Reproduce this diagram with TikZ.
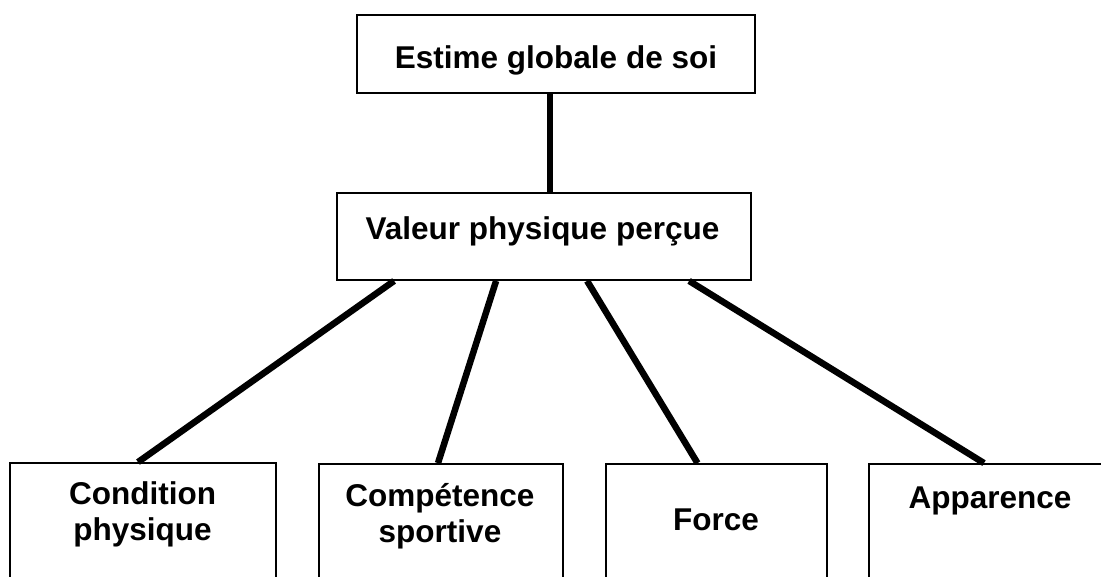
\documentclass[tikz,border=0pt]{standalone}
\usepackage{fontspec}
\setmainfont{Liberation Sans}
\begin{document}
\begin{tikzpicture}[x=1pt,y=-1pt,
  box/.style={draw=black,line width=1.8pt,rectangle,inner sep=0pt},
  lbl/.style={font=\bfseries\fontsize{31.5}{35.5}\selectfont,inner sep=0pt,anchor=base,align=center},
  link/.style={line width=6.5pt,black}]
\useasboundingbox (0,0) rectangle (1101,576);
\clip (0,0) rectangle (1101,576);
% boxes
\node[box,minimum width=398pt,minimum height=78pt] (top) at (556,54) {};
\node[box,minimum width=414pt,minimum height=87pt] (mid) at (544,236.5) {};
\node[box,minimum width=266pt,minimum height=140pt] (b1) at (143,533) {};
\node[box,minimum width=244pt,minimum height=140pt] (b2) at (441,534) {};
\node[box,minimum width=221pt,minimum height=140pt] (b3) at (716.5,534) {};
\node[box,minimum width=242pt,minimum height=140pt] (b4) at (990,534) {};
% labels
\node[lbl] (ttop) at (556,68) {Estime globale de soi};
\node[lbl] (tmid) at (542.5,239) {Valeur physique perçue};
\node[lbl] (t1) at (142.5,540) {Condition\\physique};
\node[lbl] (t2) at (440,542) {Compétence\\sportive};
\node[lbl] (t3) at (716,530) {Force};
\node[lbl] (t4) at (990,508) {Apparence};
% connectors
\draw[link] ([xshift=-6pt]top.south) -- ([xshift=6pt]mid.north);
\draw[link] ([xshift=58pt]mid.south west) -- ([xshift=-5pt]b1.north);
\draw[link] ([xshift=160pt]mid.south west) -- ([xshift=-3pt]b2.north);
\draw[link] ([xshift=251pt]mid.south west) -- ([xshift=-19pt]b3.north);
\draw[link] ([xshift=353pt]mid.south west) -- ([xshift=-6pt]b4.north);
\end{tikzpicture}
\end{document}
